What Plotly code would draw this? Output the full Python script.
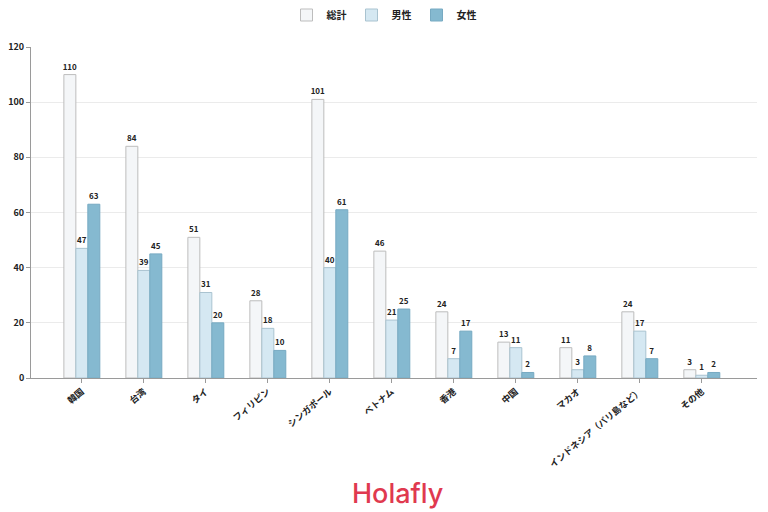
import plotly.graph_objects as go

categories = ["韓国", "台湾", "タイ", "フィリピン", "シンガポール", "ベトナム", "香港", "中国", "マカオ", "インドネシア（バリ島など）", "その他"]
total = [110, 84, 51, 28, 101, 46, 24, 13, 11, 24, 3]
male = [47, 39, 31, 18, 40, 21, 7, 11, 3, 17, 1]
female = [63, 45, 20, 10, 61, 25, 17, 2, 8, 7, 2]

series = [
    ("総計", total, "#f4f6f8", "#bdbdbd"),
    ("男性", male, "#d5e8f2", "#a9c3d0"),
    ("女性", female, "#85b9d0", "#77aac2"),
]

FONT = "Noto Sans CJK JP"
fig = go.Figure()
for name, vals, fill, line in series:
    fig.add_trace(go.Bar(
        name=name, x=list(range(len(categories))), y=vals,
        marker=dict(color=fill, line=dict(color=line, width=1)),
        text=[str(v) for v in vals], textposition="outside",
        textfont=dict(family=FONT, size=8, color="#222222", weight="bold"),
        cliponaxis=False,
    ))

fig.update_layout(
    barmode="group", bargap=0.42, bargroupgap=0,
    width=768, height=512,
    margin=dict(l=31, r=11, t=47, b=134, autoexpand=False),
    paper_bgcolor="white", plot_bgcolor="white",
    font=dict(family=FONT, size=9, color="#333333"),
    legend=dict(orientation="h", x=0.5, xref="container", xanchor="center",
                y=1 - 15 / 512, yref="container", yanchor="middle",
                font=dict(family=FONT, size=10, color="#222222", weight="bold"),
                itemwidth=30, traceorder="normal"),
    uniformtext=dict(minsize=8, mode="show"),
    xaxis=dict(
        tickmode="array", tickvals=list(range(len(categories))), ticktext=categories,
        range=[-0.82, 10.89], tickangle=-40,
        showline=True, linecolor="#9a9a9a", linewidth=1,
        ticks="outside", ticklen=4, tickcolor="#9a9a9a",
        showgrid=False, automargin=False,
        tickfont=dict(family=FONT, size=9, color="#222222", weight="bold"),
    ),
    yaxis=dict(
        range=[0, 120], dtick=20,
        showline=True, linecolor="#9a9a9a", linewidth=1,
        ticks="outside", ticklen=4, tickcolor="#9a9a9a",
        gridcolor="#ebebeb", gridwidth=1, zeroline=False, automargin=False,
        tickfont=dict(family=FONT, size=9, color="#222222", weight="bold"),
    ),
)

fig.add_annotation(
    text="Holafly", xref="paper", yref="paper",
    x=(398 - 31) / 726, y=-(493 - 378) / 331, xanchor="center", yanchor="middle",
    showarrow=False, font=dict(family="Inter", size=27, color="#e0394f", weight=500),
)

fig.write_html("out.html")
